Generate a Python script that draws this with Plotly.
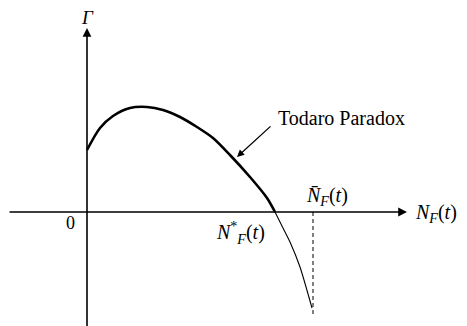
import plotly.graph_objects as go

# curve of Gamma against N_F(t) (abstract units)
curve_x = [0.0, 1.3, 2.6, 4.3, 6.0, 7.6, 9.3, 11.0, 12.6, 14.3, 16.3, 18.0, 18.8]
curve_y = [6.2, 8.4, 9.6, 10.4, 10.5, 10.2, 9.5, 8.5, 7.4, 5.7, 3.5, 1.4, 0.0]

tail_x = [18.8, 19.6, 20.3, 21.3, 22.5]
tail_y = [0.0, -1.6, -3.0, -5.5, -9.6]

n_bar = 22.6
n_bar_low = -10.5

x_axis_ends = [-7.9, 32.0]
y_axis_ends = [-12.2, 18.4]

serif = "Liberation Serif"

fig = go.Figure()

fig.add_trace(go.Scatter(
    x=curve_x, y=curve_y, mode="lines",
    line=dict(color="black", width=2.6, shape="spline", smoothing=0.8),
    hoverinfo="skip",
))
fig.add_trace(go.Scatter(
    x=tail_x, y=tail_y, mode="lines",
    line=dict(color="black", width=1.1, shape="spline", smoothing=0.6),
    hoverinfo="skip",
))
fig.add_trace(go.Scatter(
    x=[n_bar, n_bar], y=[0, n_bar_low], mode="lines",
    line=dict(color="black", width=1, dash="4px,3px"),
    hoverinfo="skip",
))

# axes with arrow heads
fig.add_annotation(x=x_axis_ends[1], y=0, ax=x_axis_ends[0], ay=0,
                   xref="x", yref="y", axref="x", ayref="y",
                   showarrow=True, arrowhead=2, arrowsize=1.1, arrowwidth=1.6,
                   arrowcolor="black", text="")
fig.add_annotation(x=0, y=y_axis_ends[1], ax=0, ay=y_axis_ends[0],
                   xref="x", yref="y", axref="x", ayref="y",
                   showarrow=True, arrowhead=2, arrowsize=1.1, arrowwidth=1.6,
                   arrowcolor="black", text="")

# pointer to the curve
fig.add_annotation(x=15.0, y=5.5, ax=18.5, ay=8.7,
                   xref="x", yref="y", axref="x", ayref="y",
                   showarrow=True, arrowhead=2, arrowsize=1.1, arrowwidth=1.3,
                   arrowcolor="black", text="")

labels = [
    (0.0, 19.5, "<i>Γ</i>", "center", 19),
    (-1.7, -1.1, "0", "center", 18),
    (15.3, -2.1, "<i>N</i><sup>*</sup><sub><i>F</i></sub>(<i>t</i>)", "center", 20),
    (24.0, 1.6, "<i>N̄</i><sub><i>F</i></sub>(<i>t</i>)", "center", 20),
    (32.6, -0.1, "<i>N</i><sub><i>F</i></sub>(<i>t</i>)", "left", 20),
    (18.9, 9.4, "Todaro Paradox", "left", 20),
]
for lx, ly, txt, anc, fs in labels:
    fig.add_annotation(x=lx, y=ly, xref="x", yref="y", text=txt,
                       showarrow=False, xanchor=anc,
                       font=dict(family=serif, size=fs, color="black"))

fig.update_xaxes(range=[-7.9, 38.8], visible=False)
fig.update_yaxes(range=[-12.2, 20.4], visible=False)
fig.update_layout(
    width=467, height=326,
    margin=dict(l=0, r=0, t=0, b=0),
    paper_bgcolor="white", plot_bgcolor="white",
    showlegend=False,
)

fig.write_html("out.html")
